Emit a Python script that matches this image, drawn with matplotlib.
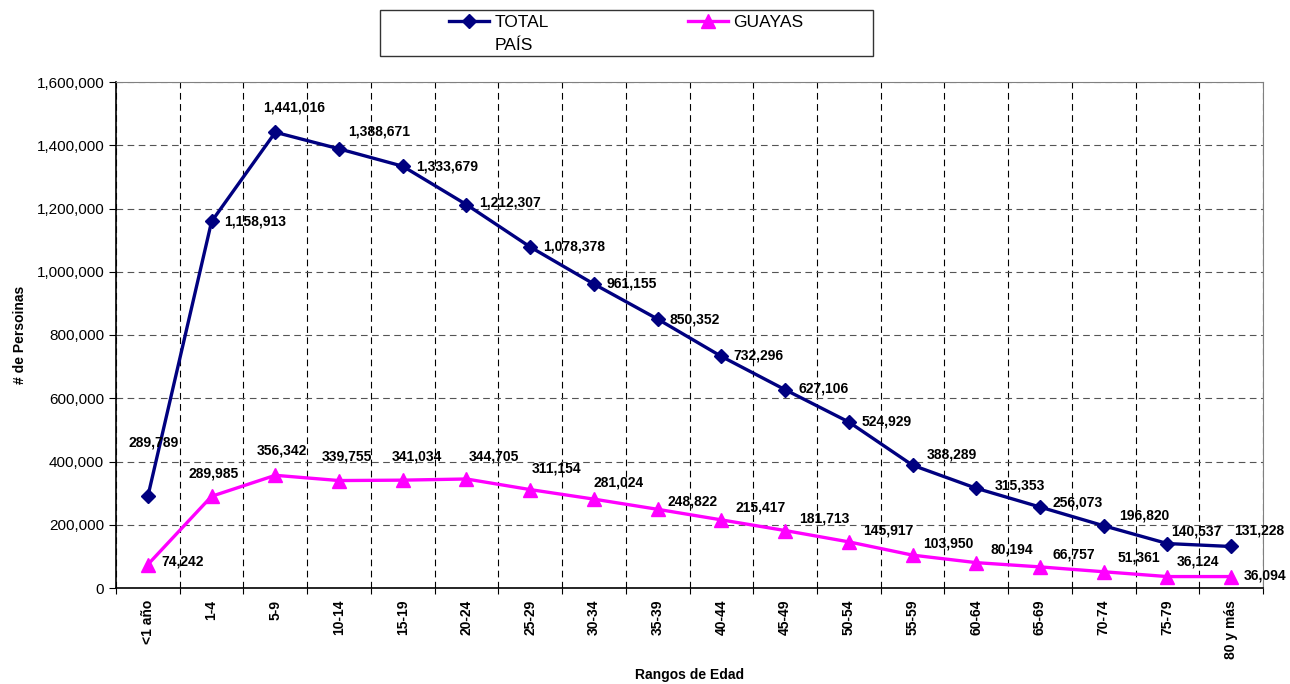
import matplotlib
matplotlib.use("Agg")
import matplotlib.pyplot as plt
from matplotlib.lines import Line2D
from matplotlib.patches import Rectangle
from matplotlib.ticker import FuncFormatter

plt.rcParams['font.family'] = ['Liberation Sans', 'DejaVu Sans']

# -------------------------
# Data
# -------------------------
age_ranges = ['<1 año', '1-4', '5-9', '10-14', '15-19', '20-24', '25-29', '30-34', '35-39',
              '40-44', '45-49', '50-54', '55-59', '60-64', '65-69', '70-74', '75-79', '80 y más']
total_pais = [289789, 1158913, 1441016, 1388671, 1333679, 1212307, 1078378, 961155, 850352,
              732296, 627106, 524929, 388289, 315353, 256073, 196820, 140537, 131228]
guayas = [74242, 289985, 356342, 339755, 341034, 344705, 311154, 281024, 248822,
          215417, 181713, 145917, 103950, 80194, 66757, 51361, 36124, 36094]

# label offsets in pixels (left edge dx, dy up)
total_offsets = [(-19, 54), (13, 0), (-12, 25), (9, 17), (13, 0), (13, 2), (13, 0), (13, 1), (12, 0),
                 (12, 1), (13, 1), (13, 0), (14, 11), (18, 3), (13, 5), (15, 10), (4, 12), (3, 16)]
guayas_offsets = [(14, 3), (-23, 23), (-19, 25), (-17, 24), (-11, 24), (2, 22), (2, 21), (0, 17), (10, 8),
                  (14, 12), (14, 12), (14, 11), (11, 12), (14, 13), (13, 12), (14, 14), (9, 15), (13, 1)]

NAVY = '#000080'
MAGENTA = '#FF00FF'

fig = plt.figure(figsize=(12.9, 6.84), dpi=100)
ax = fig.add_axes([116 / 1290, 1 - 588 / 684, (1263 - 116) / 1290, (588 - 82) / 684])

x = list(range(len(age_ranges)))
ax.plot(x, total_pais, color=NAVY, lw=2.4, marker='D', ms=7, zorder=3)
ax.plot(x, guayas, color=MAGENTA, lw=2.4, marker='^', ms=10, zorder=3)

px = 0.72
for xi, v, (dx, dy) in zip(x, total_pais, total_offsets):
    ax.annotate(f"{v:,}", (xi, v), xytext=(dx * px, dy * px), textcoords='offset points',
                ha='left', va='center', fontsize=10, fontweight='bold', zorder=4)
for xi, v, (dx, dy) in zip(x, guayas, guayas_offsets):
    ax.annotate(f"{v:,}", (xi, v), xytext=(dx * px, dy * px), textcoords='offset points',
                ha='left', va='center', fontsize=10, fontweight='bold', zorder=4)

# axes
ax.set_xlim(-0.5, len(age_ranges) - 0.5)
ax.set_ylim(0, 1600000)
ax.set_yticks(range(0, 1600001, 200000))
ax.yaxis.set_major_formatter(FuncFormatter(lambda v, p: f"{int(v):,}"))
ax.tick_params(axis='y', labelsize=11, length=5, direction='out')

ax.set_xticks([i - 0.5 for i in range(len(age_ranges) + 1)])
ax.set_xticklabels([])
ax.set_xticks(x, minor=True)
ax.set_xticklabels(age_ranges, minor=True, rotation=90, fontsize=10, fontweight='bold', va='top')
ax.tick_params(axis='x', which='major', length=4, direction='out')
ax.tick_params(axis='x', which='minor', length=0, pad=8.5)

ax.grid(axis='x', which='major', color='black', linestyle=(0, (6, 4)), lw=0.8)
ax.grid(axis='y', which='major', color='#555555', linestyle=(0, (6, 4)), lw=0.8)
ax.set_axisbelow(True)

for s in ['top', 'right']:
    ax.spines[s].set_color('#808080')
ax.spines['left'].set_linewidth(1.2)
ax.spines['bottom'].set_linewidth(1.2)

ax.set_ylabel('# de Persoinas', fontsize=10, fontweight='bold')
ax.yaxis.set_label_coords((20 - 116) / 1147, 0.5)
ax.set_xlabel('Rangos de Edad', fontsize=10, fontweight='bold')
ax.xaxis.set_label_coords(0.5, (588 - 675) / 506)
ax.xaxis.label.set_va('center')
ax.yaxis.label.set_va('center')

# legend
fig.patches.append(Rectangle((380 / 1290, 1 - 56 / 684), 493 / 1290, 46 / 684,
                             transform=fig.transFigure, fill=False, edgecolor='#333333', lw=1))
handles = [Line2D([], [], color=NAVY, lw=2.4, marker='D', ms=7),
           Line2D([], [], color=MAGENTA, lw=2.4, marker='^', ms=10)]
fig.legend(handles, ['TOTAL', 'GUAYAS'], ncol=2, frameon=False, fontsize=12.5,
           loc='center left', bbox_to_anchor=(437 / 1290, 1 - 22 / 684),
           handlelength=2.3, handletextpad=0.3, columnspacing=8.05, borderpad=0.2)
fig.text(495 / 1290, 1 - 45 / 684, 'PAÍS', fontsize=12.5, ha='left', va='center')

fig.savefig('out.png', dpi=100)
